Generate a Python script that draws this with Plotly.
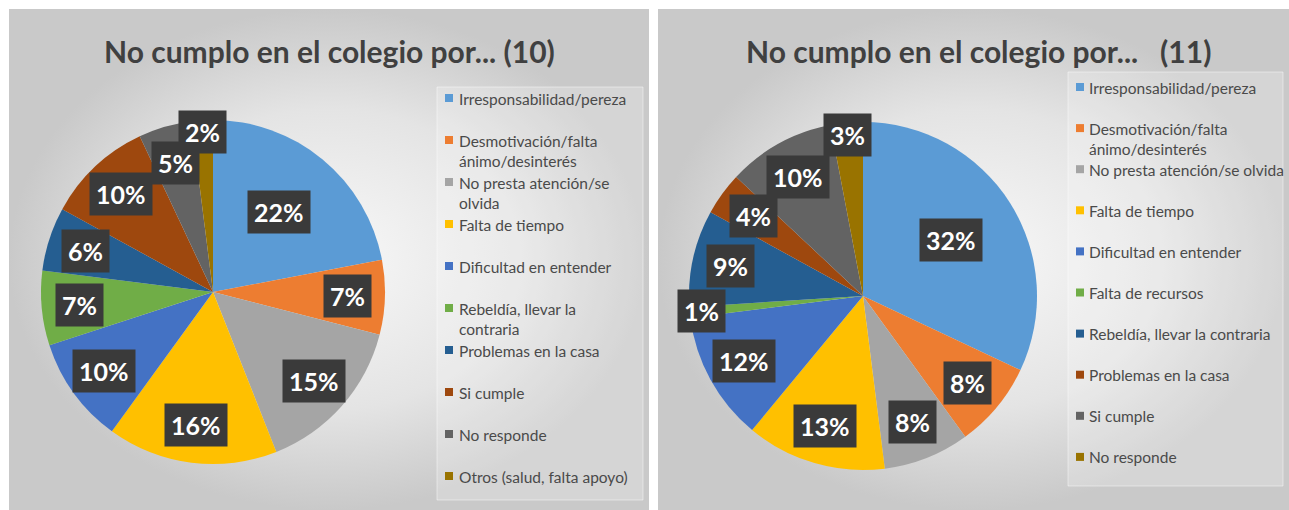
import math
import textwrap
import plotly.graph_objects as go

W, H = 1289, 510

# ---------------- data ----------------
title_10 = "No cumplo en el colegio por... (10)"
cats_10 = ["Irresponsabilidad/pereza", "Desmotivación/falta ánimo/desinterés",
           "No presta atención/se olvida", "Falta de tiempo", "Dificultad en entender",
           "Rebeldía, llevar la contraria", "Problemas en la casa", "Si cumple",
           "No responde", "Otros (salud, falta apoyo)"]
vals_10 = [22, 7, 15, 16, 10, 7, 6, 10, 5, 2]

title_11 = "No cumplo en el colegio por...\u00a0\u00a0 (11)"
cats_11 = ["Irresponsabilidad/pereza", "Desmotivación/falta ánimo/desinterés",
           "No presta atención/se olvida", "Falta de tiempo", "Dificultad en entender",
           "Falta de recursos", "Rebeldía, llevar la contraria", "Problemas en la casa",
           "Si cumple", "No responde"]
vals_11 = [32, 8, 8, 13, 12, 1, 9, 4, 10, 3]

palette = ["#5B9BD5", "#ED7D31", "#A5A5A5", "#FFC000", "#4472C4",
           "#70AD47", "#255E91", "#9E480E", "#636363", "#997300"]

# ---------------- layout config (pixels) ----------------
panels = [
    dict(title=title_10, cats=cats_10, vals=vals_10,
         rect=(9, 9, 649, 510), cx=213, cy=292, r=172, tx=329, ty=51,
         box=(437, 87, 643, 500), mx=445, lx=457, ly0=98, dy=42.0, wrap=26),
    dict(title=title_11, cats=cats_11, vals=vals_11,
         rect=(658, 9, 1289, 510), cx=863, cy=296, r=174, tx=978, ty=51,
         box=(1068, 72, 1283, 486), mx=1076, lx=1087, ly0=87, dy=41.1, wrap=30),
]

FONT = "Lato"
fig = go.Figure()
shapes = []
annotations = []

for p in panels:
    x0, y0, x1, y1 = p["rect"]
    # panel background with radial gradient
    fig.add_trace(go.Scatter(
        x=[x0, x1, x1, x0, x0], y=[y0, y0, y1, y1, y0],
        mode="lines", fill="toself", line=dict(width=0),
        fillgradient=dict(type="radial",
                          colorscale=[[0, "#f8f8f8"], [0.6, "#e4e4e4"], [1, "#c9c9c9"]]),
        hoverinfo="skip", showlegend=False))

    # pie
    cx, cy, r = p["cx"], p["cy"], p["r"]
    fig.add_trace(go.Pie(
        labels=p["cats"], values=p["vals"], sort=False, direction="clockwise",
        rotation=0, textinfo="none", hoverinfo="label+percent",
        marker=dict(colors=palette, line=dict(width=0)),
        domain=dict(x=[(cx - r) / W, (cx + r) / W],
                    y=[(H - cy - r) / H, (H - cy + r) / H]),
        showlegend=False))

    # data labels (dark boxes) placed from cumulative values
    total = sum(p["vals"])
    cum = 0
    for v in p["vals"]:
        mid = (cum + v / 2) / total
        cum += v
        ang = 2 * math.pi * mid
        f = 0.6 if v >= 20 else (0.93 if v <= 3 else 0.78)
        annotations.append(dict(
            x=cx + f * r * math.sin(ang), y=cy - f * r * math.cos(ang),
            xref="x", yref="y", showarrow=False, text=f"<b>{v}%</b>",
            font=dict(family=FONT, size=25, color="white"),
            bgcolor="#3a3a3a", borderpad=6))

    # title
    annotations.append(dict(x=p["tx"], y=p["ty"], xref="x", yref="y", showarrow=False,
                            text=f"<b>{p['title']}</b>",
                            font=dict(family=FONT, size=30, color="#404040")))

    # legend box
    bx0, by0, bx1, by1 = p["box"]
    shapes.append(dict(type="rect", xref="x", yref="y", x0=bx0, y0=by0, x1=bx1, y1=by1,
                       fillcolor="rgba(255,255,255,0.22)",
                       line=dict(color="rgba(255,255,255,0.45)", width=1), layer="above"))
    # legend entries
    for i, c in enumerate(p["cats"]):
        yy = p["ly0"] + i * p["dy"]
        shapes.append(dict(type="rect", xref="x", yref="y",
                           x0=p["mx"], x1=p["mx"] + 8, y0=yy - 4, y1=yy + 4,
                           fillcolor=palette[i], line=dict(width=0), layer="above"))
        annotations.append(dict(
            x=p["lx"], y=yy - 10.5, xref="x", yref="y", xanchor="left", yanchor="top",
            align="left", showarrow=False,
            text="<br>".join(textwrap.wrap(c, p["wrap"])),
            font=dict(family=FONT, size=15.5, color="#4a4a4a")))

fig.update_layout(
    width=W, height=H, margin=dict(l=0, r=0, t=0, b=0),
    paper_bgcolor="white", plot_bgcolor="rgba(0,0,0,0)",
    xaxis=dict(range=[0, W], visible=False, fixedrange=True),
    yaxis=dict(range=[H, 0], visible=False, fixedrange=True),
    showlegend=False, shapes=shapes, annotations=annotations,
    font=dict(family=FONT))

fig.write_html("out.html", config={"displayModeBar": False},
               post_script="document.body.style.margin='0px';")
